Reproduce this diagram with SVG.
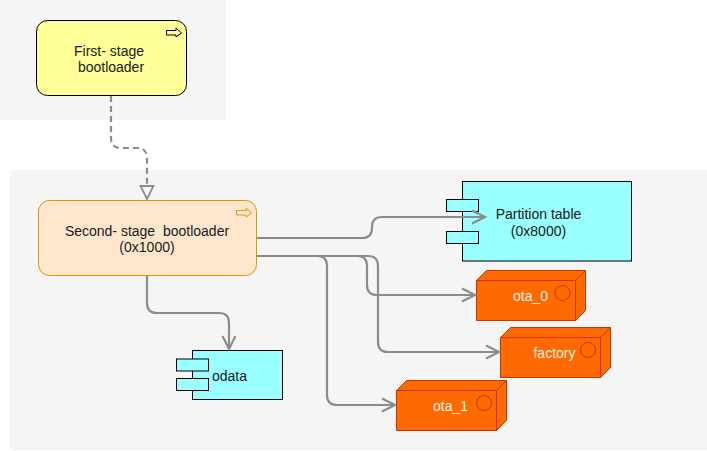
<svg xmlns="http://www.w3.org/2000/svg" width="707" height="451" viewBox="0 0 707 451">
<defs>
<marker id="open" markerUnits="userSpaceOnUse" markerWidth="16" markerHeight="18" refX="14" refY="9" orient="auto"><path d="M1 2.500 L14 9 L1 15.500" fill="none" stroke="#8c8c8c" stroke-width="2.200"/></marker>
</defs>
<style>
text{font-family:"Liberation Sans",Arial,sans-serif;font-size:14px;text-anchor:middle;fill:#1a1a1a;white-space:pre}
.bg{fill:#f5f5f5}
.c{fill:none;stroke:#8c8c8c;stroke-width:2.200}
.comp{fill:#99ffff;stroke:#000;stroke-width:1}
.dep{fill:#ff6a00;stroke:#c73500;stroke-width:1}
text.w{fill:#fff5e6}
</style>
<rect width="707" height="451" fill="#fff"/>
<rect class="bg" x="0" y="0" width="226" height="120"/>
<rect class="bg" x="10" y="170" width="697" height="280"/>
<g id="first-stage">
<rect x="36.500" y="20.500" width="150" height="75" rx="11" fill="#ffff99" stroke="#000"/>
<path d="M166.500 30.500H176V28L181.500 33L176 37V35H166.500Z" fill="#ffff99" stroke="#000"/>
<text x="109" y="56">First- stage</text>
<text x="111" y="72">bootloader</text>
</g>
<g id="second-stage">
<rect x="38.500" y="200.500" width="218" height="75" rx="11" fill="#ffe6cc" stroke="#d79b00"/>
<path d="M236.500 210.500H246V208L251.500 213L246 217V215H236.500Z" fill="#ffe6cc" stroke="#d79b00"/>
<text x="147" y="236">Second- stage  bootloader</text>
<text x="147" y="252">(0x1000)</text>
</g>
<g id="partition-table">
<rect class="comp" x="462.500" y="181.500" width="169" height="79.500"/>
<rect class="comp" x="446.500" y="199.500" width="32" height="12"/>
<rect class="comp" x="446.500" y="231.500" width="32" height="12"/>
<text x="538.500" y="219">Partition table</text>
<text x="538.500" y="236">(0x8000)</text>
</g>
<g id="ota_0">
<path class="dep" d="M476.500 280.500L486.500 270.500H585.500V310.500L575.500 320.500H476.500Z"/>
<path class="dep" d="M476.500 280.500H575.500V320.500M575.500 280.500L585.500 270.500" fill="none"/>
<circle class="dep" cx="562.500" cy="293" r="7.500"/>
<text class="w" x="530.500" y="301">ota_0</text>
</g>
<g id="factory">
<path class="dep" d="M500.500 337.500L510.500 327.500H610.500V367.500L600.500 377.500H500.500Z"/>
<path class="dep" d="M500.500 337.500H600.500V377.500M600.500 337.500L610.500 327.500" fill="none"/>
<circle class="dep" cx="588" cy="350" r="7.500"/>
<text class="w" x="554.500" y="358">factory</text>
</g>
<g id="ota_1">
<path class="dep" d="M396.500 390.500L406.500 380.500H506.500V420.500L496.500 430.500H396.500Z"/>
<path class="dep" d="M396.500 390.500H496.500V430.500M496.500 390.500L506.500 380.500" fill="none"/>
<circle class="dep" cx="484" cy="403" r="7.500"/>
<text class="w" x="450.500" y="411">ota_1</text>
</g>
<g id="odata">
<rect class="comp" x="192.500" y="350.500" width="90" height="49"/>
<rect class="comp" x="176.500" y="359" width="32" height="12"/>
<rect class="comp" x="176.500" y="378.500" width="32" height="12"/>
<text x="229.500" y="381">odata</text>
</g>
<g id="connectors">
<path class="c" stroke-dasharray="6 4" d="M111 96V138Q111 148 121 148H137Q147 148 147 158V186"/>
<path d="M140.500 186H153.500L147 199Z" fill="#f5f5f5" stroke="#8c8c8c" stroke-width="1.800"/>
<path class="c" marker-end="url(#open)" d="M257 238H362Q372 238 372 228V227Q372 217 382 217H485"/>
<path class="c" marker-end="url(#open)" d="M257 256H357Q367 256 367 266V285Q367 295 377 295H475"/>
<path class="c" marker-end="url(#open)" d="M257 256H368Q378 256 378 266V342Q378 352 388 352H499"/>
<path class="c" marker-end="url(#open)" d="M257 256H317Q327 256 327 266V395Q327 405 337 405H395"/>
<path class="c" marker-end="url(#open)" d="M147 276V303Q147 313 157 313H219Q229 313 229 323V349"/>
</g>
</svg>
